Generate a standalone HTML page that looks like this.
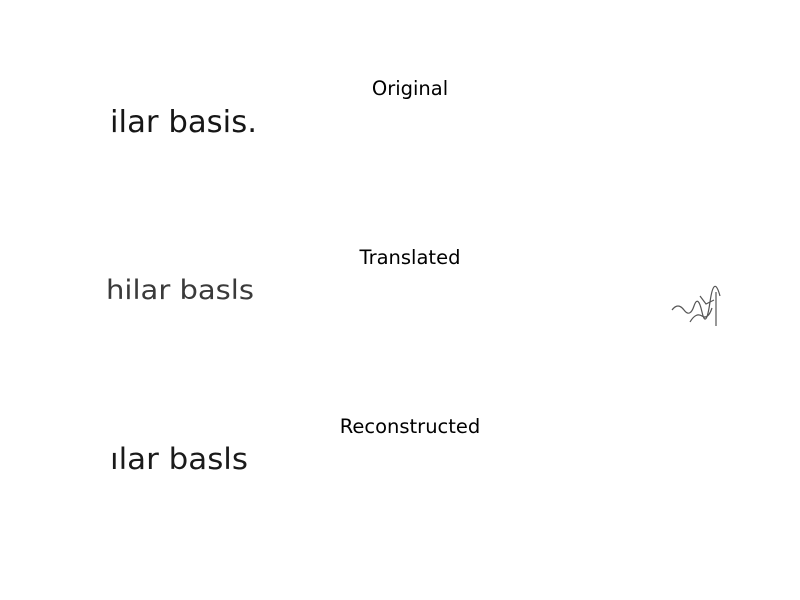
<!DOCTYPE html>
<html><head><meta charset="utf-8"><style>
body{margin:0;background:#fff;width:800px;height:600px;overflow:hidden}
svg{display:block}
</style></head><body>
<svg width="800" height="600" font-family="'DejaVu Sans', sans-serif">
<rect width="800" height="600" fill="#fff"/>
<g>
<text x="410" y="95" font-size="19.5" text-anchor="middle">Original</text>
<text x="110" y="132" font-size="30" fill="#161616" textLength="147" lengthAdjust="spacingAndGlyphs">ilar basis.</text>
</g>
<g>
<text x="410" y="264" font-size="19.5" text-anchor="middle">Translated</text>
<text x="106" y="299" font-size="27" fill="#3a3a3a" font-family="'DejaVu Sans Condensed','DejaVu Sans',sans-serif" textLength="148" lengthAdjust="spacingAndGlyphs">hilar basls</text>
<path d="M672 310 q6 -8 12 0 t10 -4 t8 6 t8 -10 t10 -6 M690 322 q6 -10 12 -6 t10 -8 M700 296 l6 8 l8 -4 M716 292 l0 34" stroke="#555" stroke-width="1.2" fill="none"/>
</g>
<g>
<text x="410" y="433" font-size="19.5" text-anchor="middle">Reconstructed</text>
<text x="110" y="469" font-size="29" fill="#1a1a1a" textLength="138" lengthAdjust="spacingAndGlyphs">ılar basls</text>
</g>
</svg>
</body></html>
